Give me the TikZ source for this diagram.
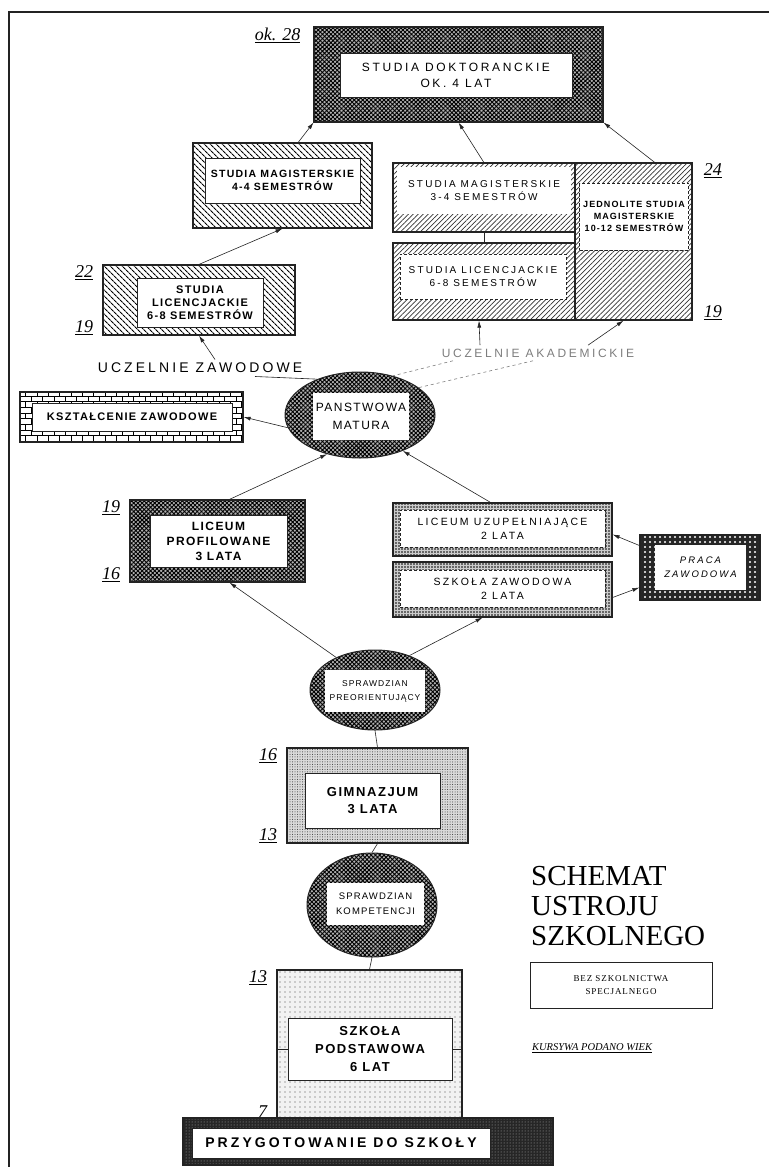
\documentclass[tikz,border=0pt]{standalone}
\usepackage{fontspec}
\setmainfont{Liberation Serif}
\newfontfamily\boxfont{Liberation Sans}[LetterSpace=12]
\newfontfamily\widefont{Liberation Sans}[LetterSpace=22]
\newfontfamily\wideserif{Liberation Serif}[LetterSpace=10]
\usetikzlibrary{shapes.geometric, arrows.meta, positioning, patterns, patterns.meta}
\definecolor{inkgray}{RGB}{35, 35, 35}
\definecolor{fadegray}{RGB}{125, 125, 125}

\begin{document}
\begin{tikzpicture}[x=1pt, y=-1pt,
  outbox/.style={rectangle, draw=inkgray, line width=1.2pt, inner sep=0pt},
  inbox/.style={rectangle, draw=inkgray, line width=0.8pt, fill=white, inner sep=0pt,
                align=center, font=\boxfont\bfseries\fontsize{11}{13}\selectfont},
  plaintext/.style={font=\widefont\fontsize{10}{13}\selectfont},
  oval/.style={ellipse, draw=inkgray, line width=1pt, inner sep=0pt},
  checker/.style={preaction={fill=black!30}, pattern={Hatch[angle=45, distance=3pt, line width=0.9pt]}, pattern color=black},
  hatchdark/.style={pattern={Lines[angle=-45, distance=4pt, line width=1.1pt]}, pattern color=black},
  hatchlight/.style={pattern={Lines[angle=45, distance=3.5pt, line width=0.7pt]}, pattern color=black!80},
  dotsmid/.style={preaction={fill=black!20}, pattern={Dots[distance=3pt, radius=0.8pt]}, pattern color=black},
  dotsfine/.style={preaction={fill=black!15}, pattern={Dots[distance=2.5pt, radius=0.5pt]}, pattern color=black!80},
  dotssparse/.style={preaction={fill=black!5}, pattern={Dots[distance=5pt, radius=0.6pt]}, pattern color=black!70},
  brick/.style={pattern=bricks, pattern color=black},
  speckle/.style={preaction={fill=black!85}, pattern={Dots[distance=5pt, radius=1.2pt]}, pattern color=white},
  noise/.style={preaction={fill=black!85}, pattern={Dots[distance=3pt, radius=0.5pt]}, pattern color=white!70!black},
  age/.style={font=\itshape\fontsize{18}{18}\selectfont, inner sep=1pt},
  arrow/.style={-{Latex[length=7pt,width=4pt]}, line width=0.6pt, color=inkgray},
  link/.style={line width=0.6pt, color=inkgray},
  faint/.style={dashed, line width=0.6pt, color=fadegray},
  framerule/.style={line width=1.2pt, color=inkgray}
]
\useasboundingbox (0,0) rectangle (769,1167);

% Frame
\draw[framerule] (769,12) -- (9,12) -- (9,1167);

% Doctoral studies
\node[outbox, checker, minimum width=289pt, minimum height=95pt] (dokt) at (458.5,74.5) {};
\node[inbox, font=\widefont\fontsize{12}{16}\selectfont, minimum width=232pt, minimum height=44pt] (doktin) at (456,75) {STUDIA DOKTORANCKIE\\OK. 4 LAT};

% Master and bachelor studies
\node[outbox, hatchdark, minimum width=179pt, minimum height=85pt] (mag44) at (282.5,185.5) {};
\node[inbox, font=\boxfont\bfseries\fontsize{10.5}{13}\selectfont, minimum width=155pt, minimum height=45pt] (mag44in) at (282.5,180.5) {STUDIA MAGISTERSKIE\\4-4 SEMESTRÓW};

\node[outbox, hatchlight, minimum width=182pt, minimum height=69pt] (mag34) at (484,197.5) {};
\node[inbox, draw=none, plaintext, minimum width=174pt, minimum height=47pt] (mag34in) at (484,190.5) {STUDIA MAGISTERSKIE\\3-4 SEMESTRÓW};

\node[outbox, hatchlight, minimum width=182pt, minimum height=77pt] (lic) at (484,281.5) {};
\node[inbox, densely dashed, line width=0.5pt, plaintext, minimum width=166pt, minimum height=45pt] (licin) at (483,276.5) {STUDIA LICENCJACKIE\\6-8 SEMESTRÓW};

\node[outbox, hatchlight, minimum width=117pt, minimum height=157pt] (jedn) at (633.5,241.5) {};
\node[inbox, densely dashed, line width=0.5pt, font=\boxfont\bfseries\fontsize{9}{12}\selectfont, minimum width=109pt, minimum height=67pt] (jednin) at (634,216.5) {JEDNOLITE STUDIA\\MAGISTERSKIE\\10-12 SEMESTRÓW};

\node[outbox, hatchdark, minimum width=192pt, minimum height=70pt] (licz) at (199,300) {};
\node[inbox, minimum width=126pt, minimum height=49pt] (liczin) at (200,302.5) {STUDIA\\LICENCJACKIE\\6-8 SEMESTRÓW};

% Schools
\node[font=\widefont\fontsize{14}{16}\selectfont] (uzaw) at (200,368) {UCZELNIE ZAWODOWE};
\node[font=\widefont\fontsize{12}{14}\selectfont, text=fadegray] (uakad) at (538,353) {UCZELNIE AKADEMICKIE};

% Matura and vocational training
\node[outbox, brick, minimum width=223pt, minimum height=50pt] (kszt) at (131.5,417) {};
\node[inbox, minimum width=200pt, minimum height=28pt] (ksztin) at (132,417) {KSZTAŁCENIE ZAWODOWE};

\node[oval, checker, minimum width=150pt, minimum height=86pt] (matura) at (360,415) {};
\node[inbox, draw=none, font=\boxfont\fontsize{12}{18}\selectfont, minimum width=96pt, minimum height=47pt] (maturain) at (361,416) {PANSTWOWA\\MATURA};

% Upper secondary
\node[outbox, checker, minimum width=175pt, minimum height=82pt] (profil) at (217.5,541) {};
\node[inbox, font=\boxfont\bfseries\fontsize{12}{15}\selectfont, minimum width=137pt, minimum height=52pt] (profilin) at (218.5,541) {LICEUM\\PROFILOWANE\\3 LATA};

\node[outbox, dotsmid, minimum width=219pt, minimum height=53pt] (uzup) at (502.5,529.5) {};
\node[inbox, densely dashed, line width=0.5pt, font=\widefont\fontsize{10.5}{14}\selectfont, minimum width=205pt, minimum height=37pt] (uzupin) at (502.5,528.5) {LICEUM UZUPEŁNIAJĄCE\\2 LATA};

\node[outbox, dotsmid, minimum width=219pt, minimum height=55pt] (zawod) at (502.5,589.5) {};
\node[inbox, densely dashed, line width=0.5pt, font=\widefont\fontsize{10.5}{14}\selectfont, minimum width=205pt, minimum height=37pt] (zawodin) at (502.5,588.5) {SZKOŁA ZAWODOWA\\2 LATA};

\node[outbox, speckle, minimum width=120pt, minimum height=65pt] (praca) at (700,567.5) {};
\node[inbox, draw=none, font=\widefont\itshape\fontsize{9.5}{14}\selectfont, minimum width=91pt, minimum height=45pt] (pracain) at (700.5,567.5) {PRACA\\ZAWODOWA};

% Lower levels
\node[oval, checker, minimum width=130pt, minimum height=80pt] (spr1) at (375,690) {};
\node[inbox, draw=none, font=\boxfont\fontsize{8.5}{14}\selectfont, minimum width=100pt, minimum height=42pt] (spr1in) at (375,691) {SPRAWDZIAN\\PREORIENTUJĄCY};

\node[outbox, dotsfine, minimum width=181pt, minimum height=95pt] (gimn) at (377.5,795.5) {};
\node[inbox, font=\boxfont\bfseries\fontsize{13}{17}\selectfont, minimum width=135pt, minimum height=55pt] (gimnin) at (372.5,800.5) {GIMNAZJUM\\3 LATA};

\node[oval, checker, minimum width=130pt, minimum height=104pt] (spr2) at (372,905) {};
\node[inbox, draw=none, font=\boxfont\fontsize{9.5}{15}\selectfont, minimum width=97pt, minimum height=42pt] (spr2in) at (375.5,904) {SPRAWDZIAN\\KOMPETENCJI};

\node[outbox, dotssparse, minimum width=185pt, minimum height=148pt] (podst) at (369.5,1044) {};
\node[inbox, font=\boxfont\bfseries\fontsize{13}{18}\selectfont, minimum width=164pt, minimum height=62pt] (podstin) at (370,1049) {SZKOŁA\\PODSTAWOWA\\6 LAT};

\node[outbox, noise, minimum width=370pt, minimum height=47pt] (przyg) at (368,1141.5) {};
\node[inbox, font=\widefont\bfseries\fontsize{14}{16}\selectfont, minimum width=298pt, minimum height=30pt] (przygin) at (341,1143) {PRZYGOTOWANIE DO SZKOŁY};

% Ages
\node[age, left=12pt of dokt.north west, anchor=north east] (age28) {\underline{ok. 28}};
\node[age, left=8pt of licz.north west, anchor=north east] (age22) {\underline{22}};
\node[age, left=8pt of licz.south west, anchor=south east] (age19a) {\underline{19}};
\node[age, right=10pt of jedn.north east, anchor=north west] (age24) {\underline{24}};
\node[age, right=10pt of jedn.south east, anchor=south west] (age19b) {\underline{19}};
\node[age, left=8pt of profil.north west, anchor=north east] (age19c) {\underline{19}};
\node[age, left=8pt of profil.south west, anchor=south east] (age16a) {\underline{16}};
\node[age, left=8pt of gimn.north west, anchor=north east] (age16b) {\underline{16}};
\node[age, left=8pt of gimn.south west, anchor=south east] (age13a) {\underline{13}};
\node[age, left=8pt of podst.north west, anchor=north east] (age13b) {\underline{13}};
\node[age, left=8pt of podst.south west, anchor=south east] (age7) {7};

% Legend
\node[anchor=north west, align=left, font=\fontsize{29}{30}\selectfont, inner sep=0pt] (title) at (531,866) {SCHEMAT\\USTROJU\\SZKOLNEGO};
\node[draw=inkgray, line width=0.6pt, minimum width=182pt, minimum height=46pt, align=center, font=\wideserif\fontsize{9}{13}\selectfont] (bez) at (621,985) {BEZ SZKOLNICTWA\\SPECJALNEGO};
\node[font=\itshape\fontsize{10.5}{12}\selectfont] (kurs) at (592,1048) {\underline{KURSYWA PODANO WIEK}};

% Arrows
\draw[arrow] (mag44.70) -- (dokt.south west);
\draw[arrow] (mag34.north) -- (dokt.south);
\draw[arrow] (jedn.75) -- (dokt.south east);
\draw[arrow] (licz.north) -- (mag44.south);
\draw[link] (mag34.south) -- (lic.north);
\draw[arrow] ([xshift=15pt]uzaw.north) -- (licz.south);
\draw[link] ([xshift=55pt]uzaw.south) -- (matura.140);
\draw[arrow] ([xshift=-58pt]uakad.north) -- ([xshift=-5pt]lic.south);
\draw[arrow] ([xshift=50pt]uakad.north) -- ([xshift=-10pt]jedn.south);
\draw[faint] ([xshift=-85pt]uakad.south) -- (matura.50);
\draw[faint] ([xshift=-5pt]uakad.south) -- (matura.25);
\draw[arrow] (matura.190) -- (kszt.east);
\draw[arrow] ([xshift=12pt]profil.north) -- (matura.-130);
\draw[arrow] ([xshift=-12pt]uzup.north) -- (matura.-40);
\draw[arrow] ([yshift=22pt]praca.west) -- ([yshift=-5pt]uzup.east);
\draw[arrow] ([yshift=-8pt]zawod.east) -- ([yshift=-20pt]praca.west);
\draw[arrow] (spr1.140) -- ([xshift=12pt]profil.south);
\draw[arrow] (spr1.45) -- ([xshift=-20pt]zawod.south);
\draw[link] (spr1.south) -- (gimn.north);
\draw[link] (gimn.south) -- (spr2.north);
\draw[link] (spr2.south) -- (podst.north);
\draw[link] (podst.west |- podstin.west) -- (podstin.west);
\draw[link] (podstin.east) -- (podst.east |- podstin.east);

\end{tikzpicture}
\end{document}
